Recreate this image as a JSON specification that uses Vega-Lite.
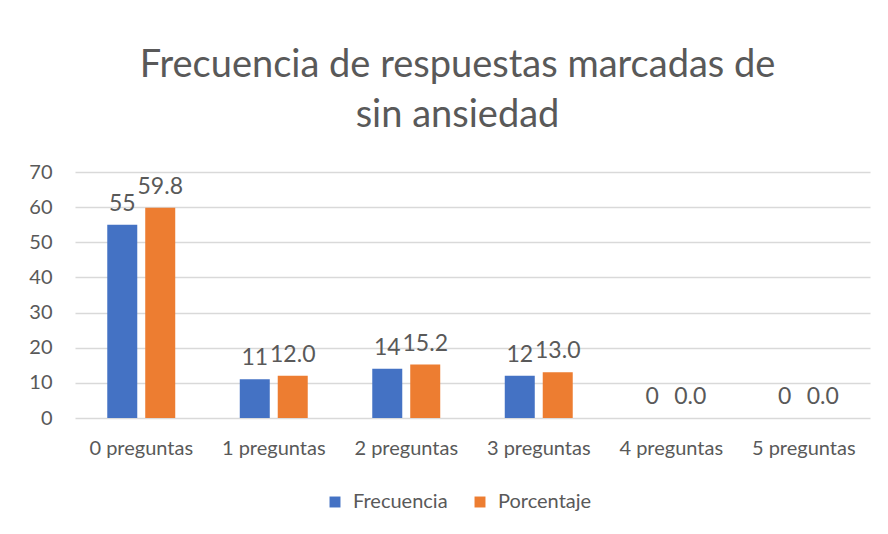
{
  "$schema": "https://vega.github.io/schema/vega-lite/v6.json",
  "autosize": {"type": "none"},
  "width": 795,
  "height": 246,
  "padding": {"left": 75, "top": 172, "right": 18, "bottom": 116},
  "background": "white",
  "title": {
    "text": ["Frecuencia de respuestas marcadas de", "sin ansiedad"],
    "font": "Lato",
    "fontSize": 38,
    "fontWeight": "normal",
    "color": "#595959",
    "lineHeight": 50,
    "anchor": "middle",
    "dx": -15,
    "offset": 27
  },
  "data": {
    "values": [
      {"cat": "0 preguntas", "serie": "Frecuencia", "valor": 55},
      {"cat": "0 preguntas", "serie": "Porcentaje", "valor": 59.8},
      {"cat": "1 preguntas", "serie": "Frecuencia", "valor": 11},
      {"cat": "1 preguntas", "serie": "Porcentaje", "valor": 12.0},
      {"cat": "2 preguntas", "serie": "Frecuencia", "valor": 14},
      {"cat": "2 preguntas", "serie": "Porcentaje", "valor": 15.2},
      {"cat": "3 preguntas", "serie": "Frecuencia", "valor": 12},
      {"cat": "3 preguntas", "serie": "Porcentaje", "valor": 13.0},
      {"cat": "4 preguntas", "serie": "Frecuencia", "valor": 0},
      {"cat": "4 preguntas", "serie": "Porcentaje", "valor": 0.0},
      {"cat": "5 preguntas", "serie": "Frecuencia", "valor": 0},
      {"cat": "5 preguntas", "serie": "Porcentaje", "valor": 0.0}
    ]
  },
  "encoding": {
    "x": {
      "field": "cat", "type": "nominal", "sort": null,
      "scale": {"paddingInner": 0.487, "paddingOuter": 0.2435},
      "axis": {
        "title": null, "labelAngle": 0, "ticks": false, "tickSize": 0, "domain": false,
        "labelPadding": 20, "labelFont": "Lato", "labelFontSize": 20, "labelColor": "#595959"
      }
    },
    "xOffset": {"field": "serie", "type": "nominal", "scale": {"paddingInner": 0.21, "paddingOuter": 0}},
    "y": {
      "field": "valor", "type": "quantitative",
      "scale": {"domain": [0, 70], "nice": false},
      "axis": {
        "title": null, "values": [0, 10, 20, 30, 40, 50, 60, 70], "ticks": false, "tickSize": 0, "domain": false,
        "labelPadding": 23, "labelFont": "Lato", "labelFontSize": 20, "labelColor": "#595959",
        "gridColor": "#D9D9D9", "gridWidth": 1.3
      }
    }
  },
  "layer": [
    {
      "mark": {"type": "bar"},
      "encoding": {
        "color": {
          "field": "serie", "type": "nominal",
          "scale": {"domain": ["Frecuencia", "Porcentaje"], "range": ["#4472C4", "#ED7D31"]},
          "legend": {
            "title": null, "orient": "none", "legendX": 250, "legendY": 320, "direction": "horizontal",
            "symbolType": "square", "symbolSize": 120, "symbolStrokeWidth": 0,
            "labelFont": "Lato", "labelFontSize": 20, "labelColor": "#595959",
            "columnPadding": 22, "labelOffset": 8
          }
        }
      }
    },
    {
      "transform": [{"filter": "datum.serie === 'Frecuencia'"}],
      "mark": {"type": "text", "font": "Lato", "fontSize": 23, "color": "#595959", "baseline": "alphabetic", "dy": -14},
      "encoding": {"text": {"field": "valor", "type": "quantitative", "format": "d"}}
    },
    {
      "transform": [{"filter": "datum.serie === 'Porcentaje'"}],
      "mark": {"type": "text", "font": "Lato", "fontSize": 23, "color": "#595959", "baseline": "alphabetic", "dy": -14},
      "encoding": {"text": {"field": "valor", "type": "quantitative", "format": ".1f"}}
    }
  ],
  "config": {"view": {"stroke": null}}
}
